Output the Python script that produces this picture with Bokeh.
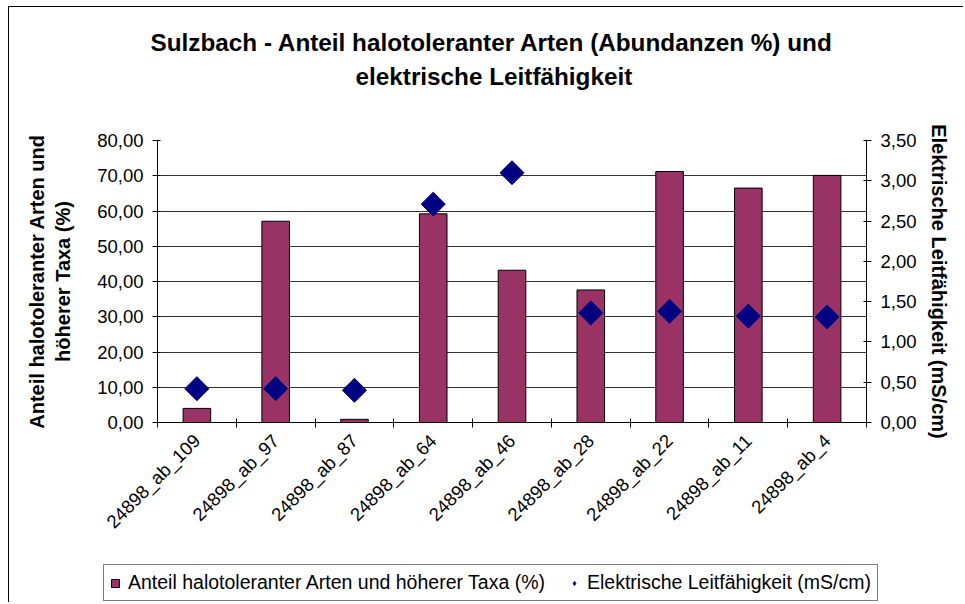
import math
from bokeh.plotting import figure
from bokeh.layouts import column
from bokeh.models import (Range1d, LinearAxis, FixedTicker, CustomJSTickFormatter,
                          Title, Legend, LegendItem)
from bokeh.embed import file_html
from bokeh.resources import INLINE

categories = ["24898_ab_109", "24898_ab_97", "24898_ab_87", "24898_ab_64", "24898_ab_46",
              "24898_ab_28", "24898_ab_22", "24898_ab_11", "24898_ab_4"]
anteil = [4.0, 57.1, 0.9, 59.2, 43.2, 37.6, 71.2, 66.5, 70.1]
leitfaehigkeit = [0.42, 0.42, 0.40, 2.71, 3.10, 1.36, 1.38, 1.32, 1.31]
left_ticks = [0, 10, 20, 30, 40, 50, 60, 70, 80]
right_ticks = [0, 0.5, 1.0, 1.5, 2.0, 2.5, 3.0, 3.5]
title_line1 = "Sulzbach - Anteil halotoleranter Arten (Abundanzen %) und"
title_line2 = "elektrische Leitfähigkeit"
left_title = "Anteil halotoleranter Arten und\nhöherer Taxa (%)"
right_title = "Elektrische Leitfähigkeit (mS/cm)"
legend_labels = ["Anteil halotoleranter Arten und höherer Taxa (%)",
                 "Elektrische Leitfähigkeit (mS/cm)"]

FONT = "Liberation Sans"
BAR_COLOR = "#993366"
DOT_COLOR = "#000080"
xs = [i + 0.5 for i in range(len(categories))]

p = figure(width=955, height=553, output_backend="svg", toolbar_location=None,
           x_range=Range1d(0, len(categories)), y_range=Range1d(0, 80),
           min_border_left=148, min_border_right=98, min_border_top=133,
           min_border_bottom=138)
p.styles = {"margin-left": "8px", "margin-top": "6px",
            "border-left": "1px solid black", "border-top": "1px solid black"}
p.outline_line_color = None
p.extra_y_ranges = {"right": Range1d(0, 3.5)}

fmt = CustomJSTickFormatter(code="return tick.toFixed(2).replace('.', ',');")

# left axis
ya = p.yaxis[0]
ya.ticker = FixedTicker(ticks=left_ticks)
ya.formatter = fmt
ya.axis_label = left_title
ya.axis_label_text_font = FONT
ya.axis_label_text_font_style = "bold"
ya.axis_label_text_font_size = "20px"
ya.axis_label_text_color = "black"
ya.axis_label_standoff = 20
ya.major_label_text_font = FONT
ya.major_label_text_font_size = "18.5px"
ya.major_label_text_color = "black"
ya.major_tick_in = 3
ya.major_tick_out = 5
ya.minor_tick_line_color = None
ya.axis_line_color = "black"
ya.major_tick_line_color = "black"
ya.major_label_standoff = 9

# right axis
ra = LinearAxis(y_range_name="right", ticker=FixedTicker(ticks=right_ticks), formatter=fmt)
ra.axis_label = right_title
ra.axis_label_text_font = FONT
ra.axis_label_text_font_style = "bold"
ra.axis_label_text_font_size = "20px"
ra.axis_label_text_color = "black"
ra.axis_label_standoff = 8
ra.major_label_text_font = FONT
ra.major_label_text_font_size = "18.5px"
ra.major_label_text_color = "black"
ra.major_tick_in = 3
ra.major_tick_out = 5
ra.minor_tick_line_color = None
ra.axis_line_color = "black"
ra.major_tick_line_color = "black"
ra.major_label_standoff = 9
p.add_layout(ra, "right")

# x axis
xa = p.xaxis[0]
xa.ticker = FixedTicker(ticks=xs, minor_ticks=list(range(len(categories) + 1)))
xa.major_label_overrides = {x: c for x, c in zip(xs, categories)}
xa.major_label_orientation = math.pi / 4
xa.major_label_text_font = FONT
xa.major_label_text_font_size = "18.5px"
xa.major_label_text_color = "black"
xa.major_tick_line_color = None
xa.minor_tick_in = 4
xa.minor_tick_out = 5
xa.minor_tick_line_color = "black"
xa.axis_line_color = "black"
xa.major_label_standoff = 9

p.xgrid.grid_line_color = None
p.ygrid.ticker = FixedTicker(ticks=left_ticks)
p.ygrid.grid_line_color = "#333333"
p.ygrid.grid_line_width = 1

p.vbar(x=xs, top=anteil, width=0.35, fill_color=BAR_COLOR, line_color="black", line_width=1)
p.scatter(x=xs, y=leitfaehigkeit, y_range_name="right", marker="square", angle=math.pi / 4,
          size=17, fill_color=DOT_COLOR, line_color=DOT_COLOR)

# titles: spacer (closest to frame), second line, first line
spacer = Title(text=" ", text_font=FONT, text_font_size="24px", standoff=19)
t2 = Title(text=title_line2, align="left", offset=198, text_font=FONT, text_color="black",
           text_font_size="24.3px", text_font_style="bold", standoff=5)
t1 = Title(text=title_line1, align="left", offset=-7, text_font=FONT, text_color="black",
           text_font_size="24.3px", text_font_style="bold", standoff=5)
p.add_layout(spacer, "above")
p.add_layout(t2, "above")
p.add_layout(t1, "above")

# legend strip below the chart
q = figure(width=955, height=43, output_backend="svg", toolbar_location=None,
           x_range=Range1d(0, 1), y_range=Range1d(0, 1), x_axis_location=None,
           y_axis_location=None, min_border=0, outline_line_color=None)
q.frame_align = False
q.styles = {"margin-left": "8px", "border-left": "1px solid black"}
q.grid.visible = False
lb = q.vbar(x=xs, top=anteil, width=0.35, fill_color=BAR_COLOR, line_color="black",
            visible=False)
ld = q.scatter(x=xs, y=leitfaehigkeit, marker="diamond", size=14, fill_color=DOT_COLOR,
               line_color=DOT_COLOR, visible=False)
legend = Legend(items=[LegendItem(label=legend_labels[0], renderers=[lb]),
                       LegendItem(label=legend_labels[1], renderers=[ld])],
                orientation="horizontal", location=(94, 1),
                label_text_font=FONT, label_text_font_size="19.5px", label_text_color="black",
                border_line_color="black", border_line_width=1,
                glyph_width=10, glyph_height=10, spacing=24, padding=6, margin=0,
                label_standoff=8, background_fill_alpha=1, inactive_fill_alpha=0)
q.add_layout(legend, "center")

layout = column(p, q, spacing=0)
open("out.html", "w").write(file_html(layout, INLINE))
